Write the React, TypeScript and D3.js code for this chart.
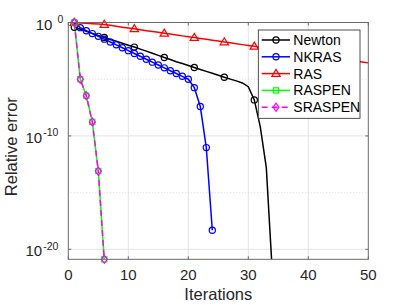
import { line, range, scaleLinear, scaleLog } from 'd3'

const iterationTicks = [0, 10, 20, 30, 40, 50]
const decadeTicks = [0, -10, -20]
const minorDecades = [-5, -15]

// relative error per iteration, starting at iteration 1
const newton = [
  3.8e-1, 2.5e-1, 1.66e-1, 1.1e-1, 7.2e-2, 4.8e-2, 3.2e-2, 2.2e-2, 1.48e-2, 1.0e-2,
  6.8e-3, 4.5e-3, 3.0e-3, 1.95e-3, 1.26e-3, 8.1e-4, 5.4e-4, 3.5e-4, 2.4e-4, 1.6e-4,
  1.07e-4, 7.2e-5, 4.9e-5, 3.3e-5, 2.2e-5, 1.5e-5, 1.02e-5, 7.1e-6, 4.7e-6, 2.2e-6,
  1.5e-7, 6.3e-10, 1.6e-13, 1e-22,
]
const nkras = [
  1, 3.5e-1, 1.9e-1, 1.05e-1, 6.0e-2, 3.4e-2, 1.9e-2, 1.07e-2, 6.0e-3, 3.3e-3,
  1.86e-3, 1.05e-3, 5.8e-4, 3.2e-4, 1.8e-4, 1.0e-4, 5.6e-5, 3.2e-5, 1.8e-5, 1.0e-5,
  1.8e-6, 3.9e-8, 9.3e-12, 4.8e-19,
]
const ras = [
  1, 0.923, 0.851, 0.785, 0.724, 0.668, 0.562, 0.468, 0.389, 0.324,
  0.275, 0.229, 0.191, 0.162, 0.135, 0.112, 0.0955, 0.0794, 0.0661, 0.0562,
  0.0468, 0.0389, 0.0331, 0.0275, 0.0229, 0.0191, 0.0162, 0.0135, 0.0112, 0.00955,
  0.00794, 0.00661, 0.00562, 0.00468, 0.00389, 0.00331, 0.00275, 0.00229, 0.00195, 0.00162,
  0.00135, 0.00115, 0.000955, 0.000794, 0.000661, 0.000562, 0.000468, 0.000389, 0.000331, 0.000275,
]
const raspen = [1, 1.0e-5, 3.5e-7, 1.7e-9, 8e-14, 1e-21]
const sraspen = [1, 1.0e-5, 3.5e-7, 1.7e-9, 8e-14, 1e-21]

type Marker = 'circle' | 'triangle' | 'square' | 'diamond'

interface Series {
  name: string
  values: number[]
  color: string
  marker: Marker
  markerEvery: number
  dash?: string
}

const series: Series[] = [
  { name: 'Newton', values: newton, color: '#000000', marker: 'circle', markerEvery: 5 },
  { name: 'NKRAS', values: nkras, color: '#0000ff', marker: 'circle', markerEvery: 1 },
  { name: 'RAS', values: ras, color: '#ff0000', marker: 'triangle', markerEvery: 5 },
  { name: 'RASPEN', values: raspen, color: '#00ff00', marker: 'square', markerEvery: 1 },
  { name: 'SRASPEN', values: sraspen, color: '#ff00ff', marker: 'diamond', markerEvery: 1, dash: '6,4' },
]

const width = 407
const height = 305
const plot = { left: 68.3, right: 368.3, top: 22.5, bottom: 259.3 }
const font = '"Liberation Sans", Arial, Helvetica, sans-serif'
const ink = '#262626'
const gridColor = '#e3e3e3'

function MarkerShape({ kind, x, y, color }: { kind: Marker; x: number; y: number; color: string }) {
  const common = { fill: 'none', stroke: color, strokeWidth: 1.2 }
  if (kind === 'circle') return <circle cx={x} cy={y} r={3.1} {...common} />
  if (kind === 'square') return <rect x={x - 2.6} y={y - 2.6} width={5.2} height={5.2} {...common} />
  if (kind === 'triangle')
    return <path d={`M${x},${y - 4.2}L${x + 4.2},${y + 2.8}L${x - 4.2},${y + 2.8}Z`} {...common} />
  return <path d={`M${x},${y - 4}L${x + 3},${y}L${x},${y + 4}L${x - 3},${y}Z`} {...common} />
}

export default function App() {
  const x = scaleLinear().domain([0, 50]).range([plot.left, plot.right])
  const y = scaleLog()
    .domain([10 ** -20.88, 1])
    .range([plot.bottom, plot.top])

  const path = line<number>()
    .x((_, i) => x(i + 1))
    .y(v => y(v))

  const legendRows = range(series.length).map(i => 40 + i * 16.8)

  return (
    <svg
      width={width}
      height={height}
      style={{ position: 'absolute', left: 0, top: 0, background: '#fff' }}
      fontFamily={font}
    >
      <defs>
        <clipPath id="plot-area">
          <rect x={plot.left} y={plot.top} width={plot.right - plot.left} height={plot.bottom - plot.top} />
        </clipPath>
      </defs>

      {/* grid */}
      {iterationTicks.slice(1, -1).map(t => (
        <line key={`gx${t}`} x1={x(t)} x2={x(t)} y1={plot.top} y2={plot.bottom} stroke={gridColor} strokeWidth={1} />
      ))}
      {decadeTicks.map(d => (
        <line key={`gy${d}`} x1={plot.left} x2={plot.right} y1={y(10 ** d)} y2={y(10 ** d)} stroke={gridColor} strokeWidth={1} />
      ))}
      {minorDecades.map(d => (
        <line
          key={`gm${d}`}
          x1={plot.left}
          x2={plot.right}
          y1={y(10 ** d)}
          y2={y(10 ** d)}
          stroke="#cfcfcf"
          strokeWidth={0.8}
          strokeDasharray="1,2"
        />
      ))}

      {/* series */}
      <g clipPath="url(#plot-area)">
        {series.map(s => (
          <path
            key={s.name}
            d={path(s.values) ?? ''}
            fill="none"
            stroke={s.color}
            strokeWidth={1.5}
            strokeDasharray={s.dash}
          />
        ))}
      </g>
      {series.map(s => (
        <g key={`m${s.name}`}>
          {s.values.map((v, i) =>
            i % s.markerEvery === 0 && v >= 1e-21 ? (
              <MarkerShape key={i} kind={s.marker} x={x(i + 1)} y={y(Math.max(v, 10 ** -20.88))} color={s.color} />
            ) : null
          )}
        </g>
      ))}

      {/* axes box */}
      <rect
        x={plot.left}
        y={plot.top}
        width={plot.right - plot.left}
        height={plot.bottom - plot.top}
        fill="none"
        stroke="#6a6a6a"
        strokeWidth={1}
      />
      {iterationTicks.map(t => (
        <g key={`tx${t}`}>
          <line x1={x(t)} x2={x(t)} y1={plot.bottom} y2={plot.bottom - 3} stroke="#6a6a6a" />
          <line x1={x(t)} x2={x(t)} y1={plot.top} y2={plot.top + 3} stroke="#6a6a6a" />
          <text x={x(t)} y={280} textAnchor="middle" fontSize={15} fill={ink}>
            {t}
          </text>
        </g>
      ))}
      {decadeTicks.map(d => {
        const ty = y(10 ** d)
        const left = d === 0 ? 35.7 : 25.5
        return (
          <g key={`ty${d}`}>
            <line x1={plot.left} x2={plot.left + 3} y1={ty} y2={ty} stroke="#6a6a6a" />
            <line x1={plot.right} x2={plot.right - 3} y1={ty} y2={ty} stroke="#6a6a6a" />
            <text x={left} y={ty + 7} fontSize={15} fill={ink}>
              10
              <tspan dx={d === 0 ? 5 : 1} dy={-6.5} fontSize={10.5}>
                {d}
              </tspan>
            </text>
          </g>
        )
      })}

      <text x={218.3} y={300} textAnchor="middle" fontSize={16.5} fill={ink}>
        Iterations
      </text>
      <text transform="translate(16.5,146.7) rotate(-90)" textAnchor="middle" fontSize={16.5} fill={ink}>
        Relative error
      </text>

      {/* legend */}
      <rect x={258.3} y={30} width={101.7} height={88.3} fill="#fff" stroke="#262626" strokeWidth={0.8} />
      {series.map((s, i) => (
        <g key={`l${s.name}`}>
          <line
            x1={261.7}
            x2={290}
            y1={legendRows[i]}
            y2={legendRows[i]}
            stroke={s.color}
            strokeWidth={1.5}
            strokeDasharray={s.dash}
          />
          <MarkerShape kind={s.marker} x={276} y={legendRows[i]} color={s.color} />
          <text x={293.3} y={legendRows[i]} dy="0.35em" fontSize={14} fill="#000">
            {s.name}
          </text>
        </g>
      ))}
    </svg>
  )
}
